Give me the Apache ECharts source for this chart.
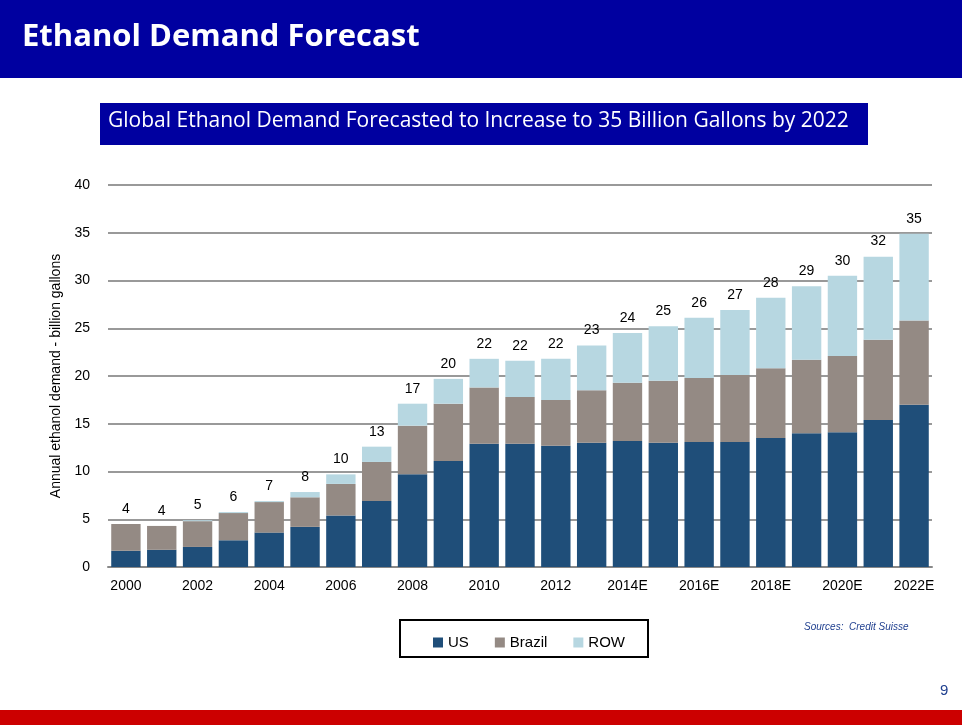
<!DOCTYPE html>
<html>
<head>
<meta charset="utf-8">
<script src="https://cdn.jsdelivr.net/npm/echarts@6/dist/echarts.min.js"></script>
<style>html,body{margin:0;padding:0;background:#fff}#main{width:962px;height:725px}</style>
</head>
<body>
<div id="main"></div>
<script>
var years = ['2000','2001','2002','2003','2004','2005','2006','2007','2008','2009','2010','2011','2012','2013',
  '2014E','2015E','2016E','2017E','2018E','2019E','2020E','2021E','2022E'];
var us     = [1.7,1.8,2.1,2.8,3.6,4.2,5.4,6.9,9.7,11.1,12.9,12.9,12.7,13.0,13.2,13.0,13.1,13.1,13.5,14.0,14.1,15.4,17.0];
var brazil = [2.8,2.5,2.7,2.85,3.2,3.1,3.3,4.1,5.1,6.0,5.9,4.9,4.8,5.5,6.1,6.5,6.7,7.0,7.3,7.7,8.0,8.4,8.8];
var row    = [0.0,0.0,0.1,0.1,0.1,0.55,1.0,1.6,2.3,2.6,3.0,3.8,4.3,4.7,5.2,5.7,6.3,6.8,7.4,7.7,8.4,8.7,9.1];
var totals = [4,4,5,6,7,8,10,13,17,20,22,22,22,23,24,25,26,27,28,29,30,32,35];

var chart = echarts.init(document.getElementById('main'));
chart.setOption({
  animation: false,
  textStyle: {fontFamily: 'Liberation Sans, Arial'},
  graphic: [
    {type:'rect', shape:{x:0,y:0,width:962,height:78}, style:{fill:'#0000a0'}},
    {type:'text', left:22, top:22, style:{text:'Ethanol Demand Forecast', fill:'#fff', font:'bold 31px "Open Sans", sans-serif'}},
    {type:'rect', shape:{x:100,y:103,width:768,height:42}, style:{fill:'#0000a0'}},
    {type:'text', left:108, top:111, style:{text:'Global Ethanol Demand Forecasted to Increase to 35 Billion Gallons by 2022', fill:'#fff', font:'21px "Open Sans", sans-serif'}},
    {type:'rect', shape:{x:400,y:620,width:248,height:37}, style:{fill:'none', stroke:'#000', lineWidth:2}},
    {type:'text', left:804, top:622, style:{text:'Sources:  Credit Suisse', fill:'#1f3f8f', font:'italic 10px "Liberation Sans", sans-serif'}},
    {type:'text', left:940, top:683, style:{text:'9', fill:'#1f3f8f', font:'15px "Liberation Sans", sans-serif'}},
    {type:'rect', shape:{x:0,y:710,width:962,height:15}, style:{fill:'#cc0000'}}
  ],
  legend: {
    data:['US','Brazil','ROW'], top:630, left:428, icon:'rect', itemWidth:10, itemHeight:10, itemGap:26,
    textStyle:{fontSize:15, color:'#000'}
  },
  grid: {left:108, right:30, top:185, bottom:158},
  xAxis: {
    type:'category', data:years,
    axisLine:{lineStyle:{color:'#888', width:2}}, axisTick:{show:false},
    axisLabel:{interval:1, fontSize:14, color:'#000', margin:12}
  },
  yAxis: {
    type:'value', min:0, max:40, interval:5,
    name:'Annual ethanol demand - billion gallons', nameLocation:'middle', nameGap:40, nameRotate:90,
    nameTextStyle:{fontSize:14, color:'#000'},
    axisLabel:{fontSize:14, color:'#000', margin:18},
    splitLine:{lineStyle:{color:'#999', width:2}}
  },
  series: [
    {name:'US', type:'bar', stack:'t', data:us, barCategoryGap:'18%', itemStyle:{color:'#1f4e79'}},
    {name:'Brazil', type:'bar', stack:'t', data:brazil, itemStyle:{color:'#948a84'}},
    {name:'ROW', type:'bar', stack:'t', data:row, itemStyle:{color:'#b7d7e1'},
      label:{show:true, position:'top', distance:8, fontSize:14, color:'#000',
        formatter:function(p){return totals[p.dataIndex];}}}
  ]
});
</script>
</body>
</html>
